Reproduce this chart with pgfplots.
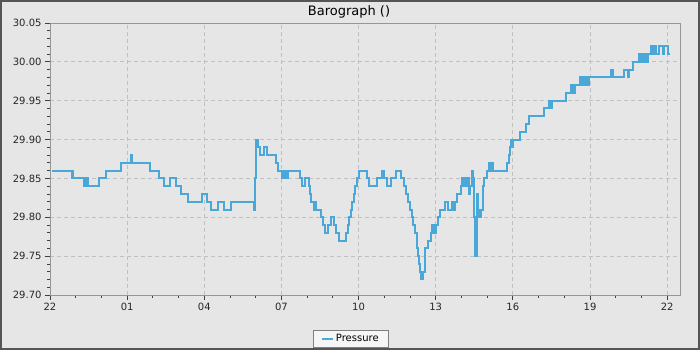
\documentclass[border=0pt]{standalone}
\usepackage{pgfplots}
\pgfplotsset{compat=1.18}
\usepackage{fontspec}
\setmainfont{DejaVu Sans}
\definecolor{bgc}{RGB}{230,230,230}
\definecolor{framec}{RGB}{85,85,85}
\definecolor{linec}{RGB}{74,168,216}
\definecolor{gridc}{RGB}{192,192,192}
\definecolor{axc}{RGB}{150,150,150}
\definecolor{legfill}{RGB}{246,246,246}
\begin{document}
\begin{tikzpicture}
\useasboundingbox (0,0) rectangle (700bp,350bp);
\fill[bgc] (0,0) rectangle (700bp,350bp);
\draw[framec, line width=2bp] (1bp,1bp) rectangle (699bp,349bp);
\begin{axis}[
  at={(50bp,55bp)}, anchor=south west, scale only axis,
  width=630bp, height=272bp,
  xmin=0, xmax=24.5, ymin=29.70, ymax=30.05,
  xtick={0,3,6,9,12,15,18,21,24},
  xticklabels={22,01,04,07,10,13,16,19,22},
  minor x tick num=2,
  ytick={29.70,29.75,29.80,29.85,29.90,29.95,30.00,30.05},
  minor y tick num=4,
  yticklabel style={/pgf/number format/.cd, fixed, fixed zerofill, precision=2},
  /pgf/number format/assume math mode=true,
  tick align=outside, tick pos=left,
  major tick length=5bp, minor tick length=3bp,
  tick style={black!75, line width=0.8bp},
  axis line style={axc, line width=1bp},
  grid=major,
  grid style={gridc, dash pattern=on 4bp off 3bp, line width=0.8bp},
  ticklabel style={font=\fontsize{10bp}{12bp}\selectfont, text=black!85},
  title={Barograph ()},
  title style={font=\fontsize{13bp}{15bp}\selectfont, at={(axis description cs:0.4746,1)}, anchor=base, yshift=2bp, inner sep=0pt},
  legend style={at={(axis description cs:0.4775,-0.16)}, anchor=center,
    draw=gray, fill=legfill, font=\fontsize{10bp}{12bp}\selectfont,
    inner xsep=7.5bp, inner ysep=1.8bp},
  legend image code/.code={\draw[#1] (0bp,0bp) -- (11bp,0bp);},
]
\addplot[const plot, color=linec, line width=2bp] coordinates {
(0.09,29.86) (0.84,29.85) (0.87,29.86) (0.90,29.85) (1.33,29.84) (1.41,29.85)
(1.49,29.84) (1.91,29.85) (2.17,29.86) (2.77,29.87) (3.16,29.88) (3.19,29.87)
(3.90,29.86) (4.25,29.85) (4.44,29.84) (4.65,29.85) (4.91,29.84) (5.10,29.83)
(5.35,29.82) (5.91,29.83) (6.10,29.82) (6.27,29.81) (6.52,29.82) (6.75,29.81)
(7.05,29.82) (7.92,29.81) (7.97,29.85) (8.02,29.90) (8.08,29.89) (8.15,29.88)
(8.34,29.89) (8.44,29.88) (8.77,29.87) (8.87,29.86) (9.03,29.85) (9.06,29.86)
(9.13,29.85) (9.16,29.86) (9.23,29.85) (9.26,29.86) (9.74,29.85) (9.80,29.84)
(9.93,29.85) (10.06,29.84) (10.13,29.83) (10.15,29.82) (10.26,29.81) (10.30,29.82)
(10.34,29.81) (10.55,29.80) (10.62,29.79) (10.71,29.78) (10.80,29.79) (10.93,29.80)
(11.06,29.79) (11.14,29.78) (11.23,29.77) (11.53,29.78) (11.57,29.79) (11.62,29.80)
(11.69,29.81) (11.75,29.82) (11.82,29.83) (11.88,29.84) (11.95,29.85) (12.01,29.86)
(12.34,29.85) (12.40,29.84) (12.73,29.85) (12.90,29.86) (12.98,29.85) (13.12,29.84)
(13.25,29.85) (13.44,29.86) (13.64,29.85) (13.77,29.84) (13.84,29.83) (13.93,29.82)
(14.00,29.81) (14.06,29.80) (14.12,29.79) (14.20,29.78) (14.27,29.76) (14.31,29.75)
(14.35,29.74) (14.38,29.73) (14.41,29.72) (14.45,29.73) (14.47,29.72) (14.52,29.73)
(14.57,29.74) (14.60,29.76) (14.71,29.77) (14.82,29.78) (14.87,29.79) (14.92,29.78)
(15.03,29.79) (15.10,29.80) (15.16,29.81) (15.38,29.82) (15.46,29.81) (15.62,29.82)
(15.70,29.81) (15.75,29.82) (15.84,29.83) (15.97,29.84) (16.04,29.85) (16.08,29.84)
(16.12,29.85) (16.17,29.84) (16.22,29.85) (16.30,29.83) (16.35,29.84) (16.43,29.86)
(16.46,29.85) (16.49,29.80) (16.53,29.75) (16.60,29.79) (16.62,29.83) (16.66,29.80)
(16.70,29.81) (16.74,29.80) (16.78,29.81) (16.82,29.84) (16.88,29.85) (16.99,29.86)
(17.08,29.87) (17.12,29.86) (17.16,29.87) (17.23,29.86) (17.79,29.87) (17.84,29.88)
(17.88,29.89) (17.94,29.90) (17.99,29.89) (18.02,29.90) (18.27,29.91) (18.53,29.92)
(18.61,29.93) (19.22,29.94) (19.41,29.95) (19.48,29.94) (19.54,29.95) (20.06,29.96)
(20.26,29.97) (20.30,29.96) (20.34,29.97) (20.38,29.96) (20.41,29.97) (20.62,29.98)
(20.66,29.97) (20.70,29.98) (20.74,29.97) (20.79,29.98) (20.83,29.97) (20.87,29.98)
(20.91,29.97) (20.98,29.98) (21.82,29.99) (21.91,29.98) (22.33,29.99) (22.47,29.98)
(22.53,29.99) (22.66,30.00) (22.92,30.01) (22.97,30.00) (23.00,30.01) (23.05,30.00)
(23.10,30.01) (23.18,30.00) (23.25,30.01) (23.37,30.02) (23.42,30.01) (23.46,30.02)
(23.50,30.01) (23.53,30.02) (23.57,30.01) (23.70,30.02) (23.83,30.01) (23.89,30.02)
(24.02,30.01) (24.13,30.01)
};
\legend{Pressure}
\end{axis}
\end{tikzpicture}
\end{document}
